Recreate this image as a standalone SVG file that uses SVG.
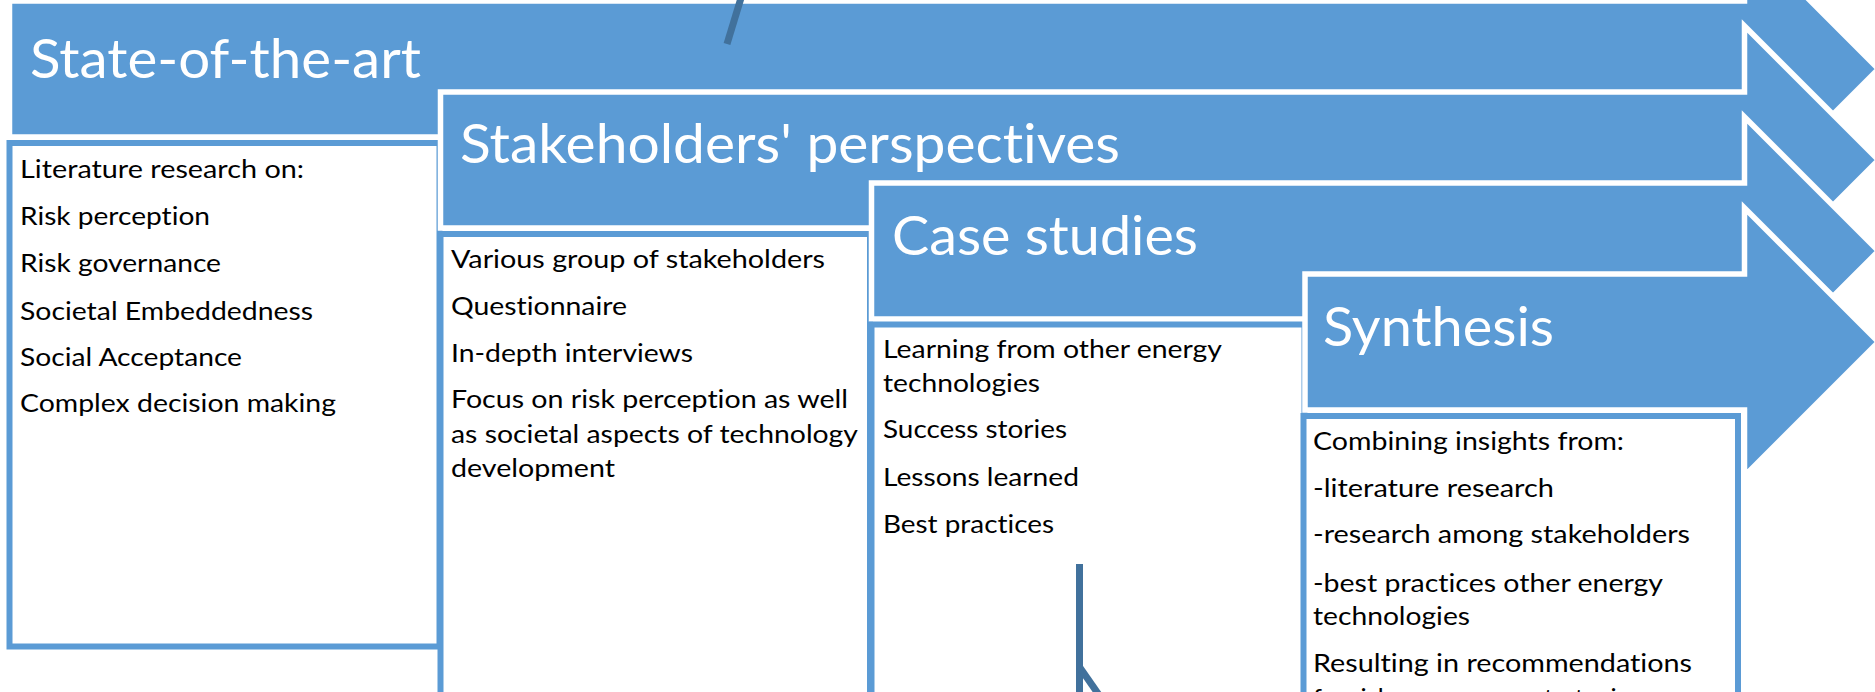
<svg xmlns="http://www.w3.org/2000/svg" width="1875" height="692" viewBox="0 0 1875 692">
<style>
.arrow{fill:#5B9BD5;stroke:#FFFFFF;stroke-width:5.5;stroke-linejoin:miter}
.box{fill:#FFFFFF;stroke:#5B9BD5;stroke-width:6}
.title{font-family:Lato,"Liberation Sans",sans-serif;font-size:55px;fill:#FFFFFF;font-variant-ligatures:none}
.body{font-family:Lato,"Liberation Sans",sans-serif;font-size:25.5px;fill:#000000;font-variant-ligatures:none}
.conn{stroke:#41719C;stroke-width:7;fill:none;stroke-linecap:butt}
</style>
<rect x="0" y="0" width="1875" height="692" fill="#FFFFFF"/>
<g id="state-of-the-art">
<polygon class="arrow" points="9.5,1 1744.5,1 1744.5,-65 1878.5,69 1744.5,203 1744.5,137 9.5,137"/>
<text class="title" x="30" y="78" textLength="391" lengthAdjust="spacingAndGlyphs">State-of-the-art</text>
</g>
<g id="state-of-the-art-box">
<rect class="box" x="9.5" y="143" width="430" height="503.5"/>
<text class="body" x="20" y="178" textLength="284" lengthAdjust="spacingAndGlyphs">Literature research on:</text>
<text class="body" x="20" y="225" textLength="190" lengthAdjust="spacingAndGlyphs">Risk perception</text>
<text class="body" x="20" y="272" textLength="201" lengthAdjust="spacingAndGlyphs">Risk governance</text>
<text class="body" x="20" y="320" textLength="293" lengthAdjust="spacingAndGlyphs">Societal Embeddedness</text>
<text class="body" x="20" y="366" textLength="222" lengthAdjust="spacingAndGlyphs">Social Acceptance</text>
<text class="body" x="20" y="412" textLength="316" lengthAdjust="spacingAndGlyphs">Complex decision making</text>
</g>
<g id="stakeholders">
<polygon class="arrow" points="440.5,92 1744.5,92 1744.5,26 1878.5,160 1744.5,294 1744.5,228 440.5,228"/>
<text class="title" x="460" y="163" textLength="660" lengthAdjust="spacingAndGlyphs">Stakeholders' perspectives</text>
</g>
<g id="stakeholders-box">
<rect class="box" x="440.5" y="234" width="429.5" height="500"/>
<text class="body" x="451" y="268" textLength="374" lengthAdjust="spacingAndGlyphs">Various group of stakeholders</text>
<text class="body" x="451" y="315" textLength="176" lengthAdjust="spacingAndGlyphs">Questionnaire</text>
<text class="body" x="451" y="362" textLength="242" lengthAdjust="spacingAndGlyphs">In-depth interviews</text>
<text class="body" x="451" y="408" textLength="397" lengthAdjust="spacingAndGlyphs">Focus on risk perception as well</text>
<text class="body" x="451" y="443" textLength="407" lengthAdjust="spacingAndGlyphs">as societal aspects of technology</text>
<text class="body" x="451" y="477" textLength="164" lengthAdjust="spacingAndGlyphs">development</text>
</g>
<g id="case-studies">
<polygon class="arrow" points="871.5,183 1744.5,183 1744.5,117 1878.5,251 1744.5,385 1744.5,319 871.5,319"/>
<text class="title" x="892" y="255" textLength="306" lengthAdjust="spacingAndGlyphs">Case studies</text>
</g>
<g id="case-studies-box">
<rect class="box" x="871.5" y="324.5" width="433" height="400"/>
<text class="body" x="883" y="358" textLength="339" lengthAdjust="spacingAndGlyphs">Learning from other energy</text>
<text class="body" x="883" y="392" textLength="157" lengthAdjust="spacingAndGlyphs">technologies</text>
<text class="body" x="883" y="438" textLength="184" lengthAdjust="spacingAndGlyphs">Success stories</text>
<text class="body" x="883" y="486" textLength="196" lengthAdjust="spacingAndGlyphs">Lessons learned</text>
<text class="body" x="883" y="533" textLength="171" lengthAdjust="spacingAndGlyphs">Best practices</text>
</g>
<g id="synthesis">
<polygon class="arrow" points="1305,274 1744.5,274 1744.5,208 1878.5,342 1744.5,476 1744.5,410 1305,410"/>
<text class="title" x="1323" y="346" textLength="231" lengthAdjust="spacingAndGlyphs">Synthesis</text>
</g>
<g id="synthesis-box">
<rect class="box" x="1303.5" y="416" width="434.5" height="300"/>
<text class="body" x="1313" y="450" textLength="311" lengthAdjust="spacingAndGlyphs">Combining insights from:</text>
<text class="body" x="1313" y="497" textLength="241" lengthAdjust="spacingAndGlyphs">-literature research</text>
<text class="body" x="1313" y="543" textLength="377" lengthAdjust="spacingAndGlyphs">-research among stakeholders</text>
<text class="body" x="1313" y="592" textLength="350" lengthAdjust="spacingAndGlyphs">-best practices other energy</text>
<text class="body" x="1313" y="625" textLength="157" lengthAdjust="spacingAndGlyphs">technologies</text>
<text class="body" x="1313" y="672" textLength="379" lengthAdjust="spacingAndGlyphs">Resulting in recommendations</text>
<text class="body" x="1313" y="707">for risk governance strategies</text>
</g>
<g id="connectors">
<line class="conn" x1="741" y1="-2" x2="727" y2="44"/>
<line class="conn" x1="1079.5" y1="564" x2="1079.5" y2="695"/>
<line class="conn" x1="1079.5" y1="667" x2="1099" y2="695"/>
</g>
</svg>
